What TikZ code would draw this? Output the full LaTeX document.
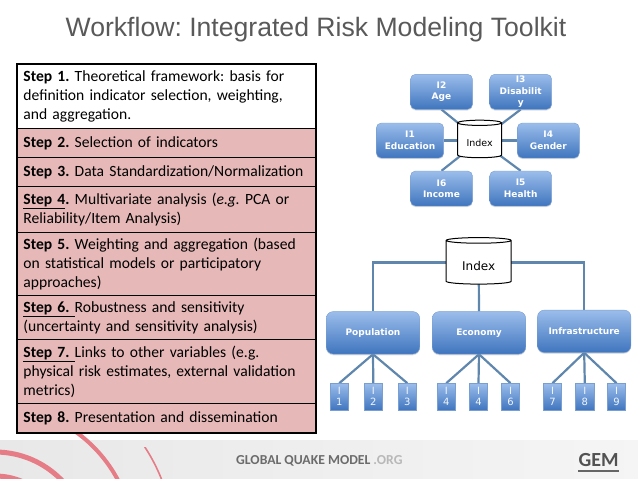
\documentclass[tikz,border=0pt]{standalone}
\usepackage{fontspec}
\setmainfont{Carlito}
\newfontfamily\titlefont{Liberation Sans}
\newfontfamily\boxfont{DejaVu Sans}
\usetikzlibrary{shapes.geometric,shadows,backgrounds}
\definecolor{rowpink}{HTML}{E6B8B7}
\definecolor{linkblue}{HTML}{5F87AE}
\definecolor{boxtop}{HTML}{9BBDEB}
\definecolor{boxbot}{HTML}{3F75BE}
\definecolor{arcred}{HTML}{E57C86}
\frenchspacing
\tikzset{
  x=1pt,y=-1pt,
  rowbox/.style={draw=black,line width=0.9pt,fill=rowpink,anchor=north west,inner sep=0pt,
    minimum width=298pt,text width=286pt,align=left,
    font=\fontsize{15.6}{19}\selectfont},
  bluebox/.style={rounded corners=5pt,top color=boxtop,bottom color=boxbot,draw=boxbot!70!white,line width=0.4pt,
    text=white,align=center,inner sep=0pt,
    drop shadow={opacity=.25,shadow xshift=0pt,shadow yshift=-1.2pt}},
  smallnode/.style={bluebox,minimum width=62pt,minimum height=35pt,font=\boxfont\bfseries\fontsize{9}{11.5}\selectfont},
  bignode/.style={bluebox,rounded corners=7pt,minimum width=93.5pt,minimum height=42.5pt,font=\boxfont\bfseries\fontsize{9}{11}\selectfont},
  leafnode/.style={bluebox,rounded corners=0pt,minimum width=18.3pt,minimum height=26.7pt,text=white!85!boxtop,font=\boxfont\fontsize{10}{11}\selectfont},
  indexdb/.style={shape=cylinder,shape border rotate=90,draw=black,line width=1pt,fill=white,inner sep=0pt,text=black},
  link/.style={draw=linkblue,line width=2.2pt},
}
\begin{document}
\begin{tikzpicture}
\useasboundingbox (0,0) rectangle (638,479);
% footer band and arcs
\shade[left color=black!9,right color=black!4] (0,440) rectangle (638,479);
\begin{scope}
\clip (0,431) rectangle (170,479);
\draw[arcred,line width=5pt] (-5,545) circle[radius=69];
\draw[arcred,line width=5pt] (-5,545) circle[radius=93];
\draw[arcred,line width=4pt] (-5,545) circle[radius=139];
\end{scope}
\begin{scope}
\clip (135,447) rectangle (170,479);
\draw[arcred,line width=1.6pt] (-5,545) circle[radius=179];
\end{scope}
\node[anchor=west,inner sep=0pt,font=\bfseries\fontsize{13.7}{15}\selectfont,text=black!58] (foot) at (236,461) {GLOBAL QUAKE MODEL \textcolor{black!28}{.ORG}};
\node[inner sep=0pt,font=\bfseries\fontsize{20}{20}\selectfont,text=black!68] (gem) at (598.5,460) {GEM};
\fill[black!60] (578,470.2) rectangle (619,471.6);
% title
\node[font=\titlefont\fontsize{26.6}{26}\selectfont,text=black!65,inner sep=0pt] (title) at (316,30) {Workflow: Integrated Risk Modeling Toolkit};
% table
\node[rowbox,fill=white,minimum height=64pt] (s1) at (17,64) {\textbf{Step 1.} Theoretical framework: basis for\\definition indicator selection, weighting,\\and aggregation.};
\node[rowbox,minimum height=29pt] (s2) at (17,128) {\textbf{Step 2.} Selection of indicators};
\node[rowbox,minimum height=29pt] (s3) at (17,157) {\textbf{Step 3.} Data Standardization/Normalization};
\node[rowbox,minimum height=46pt] (s4) at (17,186) {\textbf{\underline{Step 4}.} Multivariate analysis (\textit{e.g.} PCA or\\Reliability/Item Analysis)};
\node[rowbox,minimum height=63pt] (s5) at (17,232) {\textbf{Step 5.} Weighting and aggregation (based\\on statistical models or participatory\\approaches)};
\node[rowbox,minimum height=44pt] (s6) at (17,295) {\textbf{\underline{Step 6.\ }}Robustness and sensitivity\\(uncertainty and sensitivity analysis)};
\node[rowbox,minimum height=64pt] (s7) at (17,339) {\textbf{\underline{Step 7.\ }}Links to other variables (e.g.\\physical risk estimates, external validation\\metrics)};
\node[rowbox,minimum height=29pt] (s8) at (17,403) {\textbf{Step 8.} Presentation and dissemination};
\draw[black,line width=1.6pt] (s1.north west) rectangle (s8.south east);
% upper cluster
\node[smallnode] (i2) at (441.5,91.8) {I2\\Age};
\node[smallnode] (i3) at (520.7,91.8) {I3\\Disabilit\\y};
\node[smallnode,minimum width=67.4pt] (i1) at (410,140.5) {I1\\Education};
\node[smallnode] (i4) at (548.3,140.5) {I4\\Gender};
\node[smallnode] (i6) at (441.5,188.5) {I6\\Income};
\node[smallnode] (i5) at (520.7,188.5) {I5\\Health};
\node[indexdb,minimum width=44pt,minimum height=37.5pt,aspect=0.2,font=\boxfont\fontsize{9.5}{11}\selectfont] (idxa) at (479.7,140.5) {\raisebox{-5.7pt}[0pt][0pt]{Index}};
% lower tree
\node[indexdb,minimum width=65pt,minimum height=46.5pt,aspect=0.17,font=\boxfont\fontsize{12}{14}\selectfont] (idxb) at (478.7,262.5) {\raisebox{-8pt}[0pt][0pt]{Index}};
\node[bignode] (pop) at (373,332.8) {Population};
\node[bignode] (eco) at (479,332.8) {Economy};
\node[bignode] (inf) at (584.2,331.3) {Infrastructure};
\node[leafnode] (a1) at (339.3,396.7) {I\\1};
\node[leafnode] (a2) at (373.3,396.7) {I\\2};
\node[leafnode] (a3) at (407.3,396.7) {I\\3};
\node[leafnode] (b1) at (446.3,396.7) {I\\4};
\node[leafnode] (b2) at (478.5,396.7) {I\\4};
\node[leafnode] (b3) at (510.5,396.7) {I\\6};
\node[leafnode] (c1) at (552.5,396.7) {I\\7};
\node[leafnode] (c2) at (584.8,396.7) {I\\8};
\node[leafnode] (c3) at (616.5,396.7) {I\\9};
\begin{scope}[on background layer]
\foreach \n in {i2,i3} \draw[link] (\n.south) -- (idxa.center);
\foreach \n in {i5,i6} \draw[link] (\n.north) -- (idxa.center);
\draw[link] (i1.east) -- (idxa.center);
\draw[link] (i4.west) -- (idxa.center);
\draw[link] (idxb.center) -| (pop.north);
\draw[link] (idxb.center) -| (inf.north);
\draw[link] (idxb.center) -- (eco.north);
\foreach \n in {a1,a2,a3} \draw[link] (pop.south) -- (\n.north);
\foreach \n in {b1,b2,b3} \draw[link] (eco.south) -- (\n.north);
\foreach \n in {c1,c2,c3} \draw[link] (inf.south) -- (\n.north);
\end{scope}
\end{tikzpicture}
\end{document}
